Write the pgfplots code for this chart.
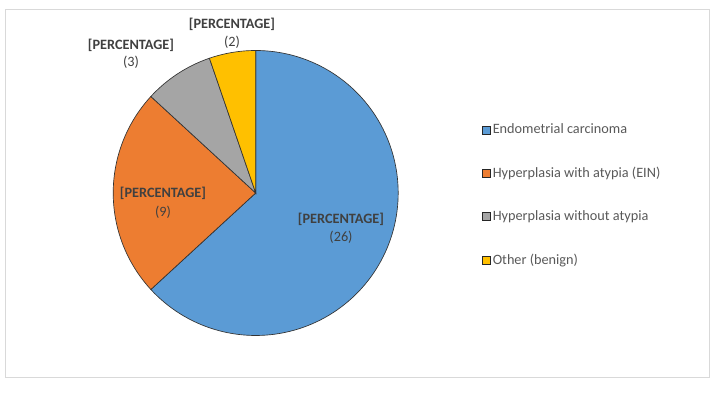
\documentclass[border=0pt]{standalone}
\usepackage{pgfplots}
\pgfplotsset{compat=1.18}
\usepackage{fontspec}
\setmainfont{Carlito}
\definecolor{cblue}{HTML}{5B9BD5}
\definecolor{corange}{HTML}{ED7D31}
\definecolor{cgray}{HTML}{A5A5A5}
\definecolor{cyellow}{HTML}{FFC000}
\definecolor{frame}{HTML}{D9D9D9}
\definecolor{lbl}{HTML}{404040}
\definecolor{leg}{HTML}{595959}
% values
\def\vA{24}\def\vB{9}\def\vC{3}\def\vD{2}
\pgfmathsetmacro\tot{\vA+\vB+\vC+\vD}
\pgfmathsetmacro\aA{90}
\pgfmathsetmacro\aB{\aA-360*\vA/\tot}
\pgfmathsetmacro\aC{\aB-360*\vB/\tot}
\pgfmathsetmacro\aD{\aC-360*\vC/\tot}
\pgfmathsetmacro\aE{\aD-360*\vD/\tot}
\def\cx{255.7}\def\cy{202}\def\rr{142.5}
\newcommand\fs{\fontsize{10.7}{13}\selectfont}
\begin{document}
\begin{tikzpicture}
\begin{axis}[
  scale only axis, width=527.25pt, height=276pt,
  xmin=6, xmax=709, ymin=17, ymax=385,
  axis line style={draw=frame, line width=0.75pt},
  ticks=none, clip=false,
  legend style={at={(axis description cs:0.671,0.497)}, anchor=west,
    draw=none, fill=none, font=\fs, text=leg,
    row sep=20.4pt, cells={anchor=west}, nodes={inner sep=1.5pt}},
  legend image code/.code={\draw[#1,draw=black!85,line width=0.6pt] (0pt,-3pt) rectangle (6pt,3pt);},
]
\path (axis cs:0,0) rectangle (axis cs:715,395);
\addplot[fill=cblue, draw=black!80, line width=0.5pt, domain=\aB:\aA, samples=120, variable=\t]
  ({\cx+\rr*cos(\t)},{\cy+\rr*sin(\t)}) -- (axis cs:\cx,\cy) -- cycle;
\addlegendentry{Endometrial carcinoma}
\addplot[fill=corange, draw=black!80, line width=0.5pt, domain=\aC:\aB, samples=50, variable=\t]
  ({\cx+\rr*cos(\t)},{\cy+\rr*sin(\t)}) -- (axis cs:\cx,\cy) -- cycle;
\addlegendentry{Hyperplasia with atypia (EIN)}
\addplot[fill=cgray, draw=black!80, line width=0.5pt, domain=\aD:\aC, samples=20, variable=\t]
  ({\cx+\rr*cos(\t)},{\cy+\rr*sin(\t)}) -- (axis cs:\cx,\cy) -- cycle;
\addlegendentry{Hyperplasia without atypia}
\addplot[fill=cyellow, draw=black!80, line width=0.5pt, domain=\aE:\aD, samples=15, variable=\t]
  ({\cx+\rr*cos(\t)},{\cy+\rr*sin(\t)}) -- (axis cs:\cx,\cy) -- cycle;
\addlegendentry{Other (benign)}
\tikzset{lb/.style={text=lbl, font=\fs\bfseries, inner sep=0pt},
         lv/.style={text=lbl, font=\fs, inner sep=0pt}}
\node[lb] at (axis cs:341,176) {[PERCENTAGE]};
\node[lv] at (axis cs:341,158) {(26)};
\node[lb] at (axis cs:163,202) {[PERCENTAGE]};
\node[lv] at (axis cs:163,183) {(9)};
\node[lb] at (axis cs:131,350) {[PERCENTAGE]};
\node[lv] at (axis cs:131,333) {(3)};
\node[lb] at (axis cs:232,371) {[PERCENTAGE]};
\node[lv] at (axis cs:232,353) {(2)};
\end{axis}
\end{tikzpicture}
\end{document}
